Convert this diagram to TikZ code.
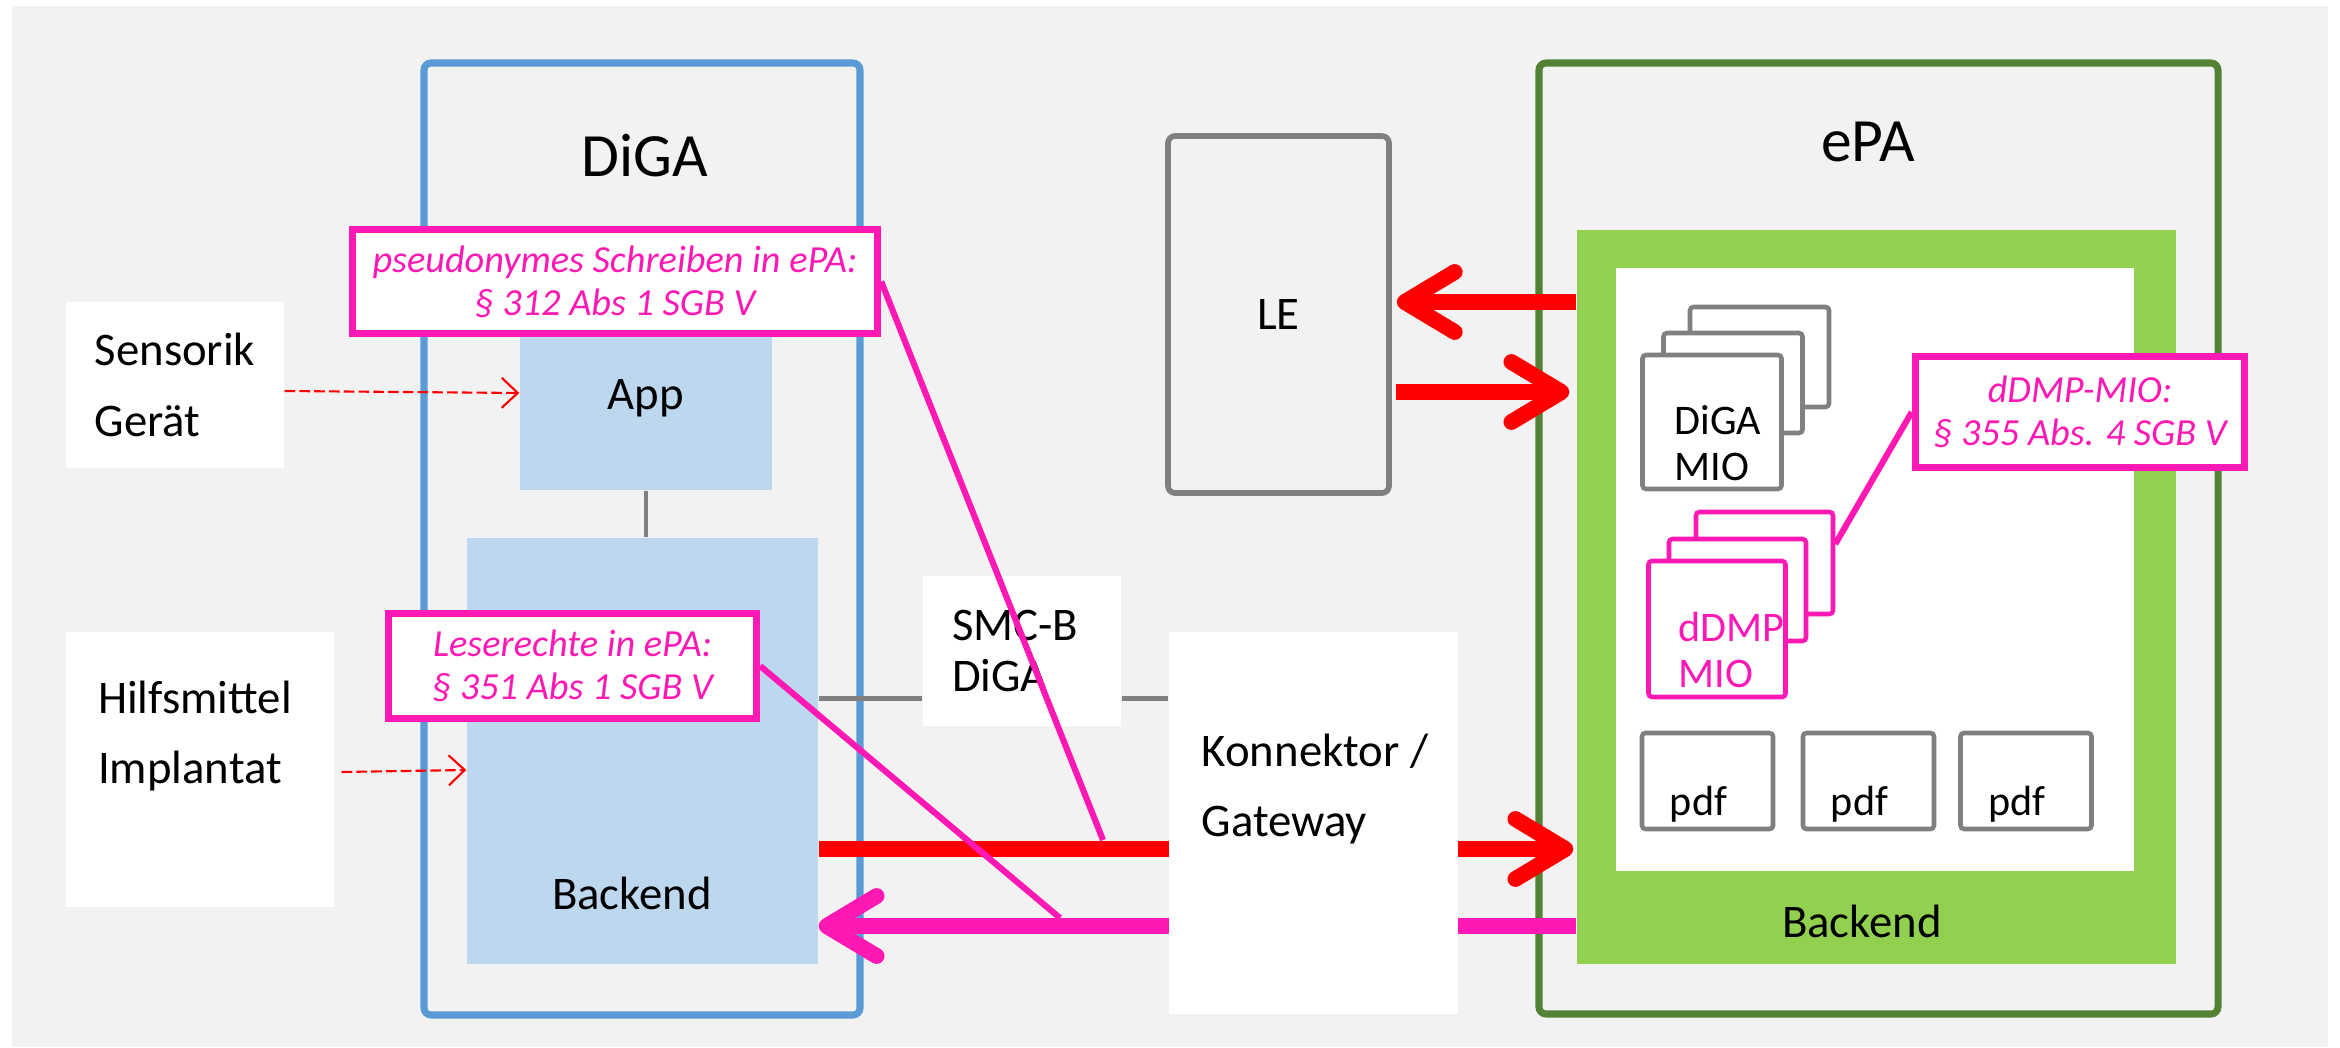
\documentclass[tikz,border=0pt]{standalone}
\usepackage{fontspec}
\setmainfont{Carlito}
\usetikzlibrary{arrows.meta}
\definecolor{bgGray}{HTML}{F2F2F2}
\definecolor{digaBlue}{HTML}{5B9BD5}
\definecolor{lightBlue}{HTML}{BDD7EE}
\definecolor{epaGreen}{HTML}{548235}
\definecolor{limeGreen}{HTML}{92D050}
\definecolor{hotPink}{HTML}{FF19B4}
\definecolor{lineGray}{HTML}{808080}

\begin{document}
\begin{tikzpicture}[
bodyfont/.style={font=\fontsize{13.3}{20}\selectfont},
titlefont/.style={font=\fontsize{17.5}{21}\selectfont},
frame/.style={rectangle, line width=2pt, rounded corners=2pt, fill=bgGray},
part/.style={rectangle, fill=lightBlue, bodyfont},
plain/.style={rectangle, fill=white, align=left, bodyfont},
law/.style={rectangle, draw=hotPink, line width=2.1pt, fill=white, text=hotPink, align=center, font=\fontsize{10.9}{12.3}\selectfont\itshape},
doc/.style={rectangle, draw=lineGray, line width=1.3pt, rounded corners=1pt, fill=white},
doctext/.style={anchor=west, inner sep=0pt, align=left, font=\fontsize{12}{13.2}\selectfont},
link/.style={draw=lineGray, line width=1.4pt},
sensor/.style={red, line width=0.6pt, dash pattern=on 3pt off 1.2pt, -{Straight Barb[length=1.6mm, width=3mm]}},
bigarrow/.style={line width=4.5pt, -{Straight Barb[length=5mm, width=6mm, round]}},
note/.style={hotPink, line width=1.75pt}
]
\useasboundingbox (0,0) rectangle (23.4,10.47);
\fill[bgGray] (0.12,0) rectangle (23.28,10.41);

% DiGA
\node[frame, draw=digaBlue, minimum width=4.36cm, minimum height=9.52cm] (diga) at (6.42,5.08) {};
\node[titlefont] (digatitle) at (6.45,8.91) {DiGA};
\node[part, minimum width=2.52cm, minimum height=1.84cm] (app) at (6.46,6.49) {App};
\node[part, minimum width=3.51cm, minimum height=4.26cm] (dbackend) at (6.425,2.96) {};
\node[bodyfont] (dbackendlabel) at (6.32,1.54) {Backend};
\draw[link] (app.south) -- (app.south |- dbackend.north);

\node[law, minimum width=5.25cm, minimum height=1.04cm] (pseudo) at (6.15,7.655) {pseudonymes Schreiben in ePA:\\§ 312 Abs 1 SGB V};
\node[law, minimum width=3.68cm, minimum height=1.055cm] (lese) at (5.725,3.81) {Leserechte in ePA:\\§ 351 Abs 1 SGB V};

\node[plain, minimum width=2.18cm, minimum height=1.66cm] (sensorik) at (1.75,6.62) {Sensorik\\Gerät};
\node[plain, minimum width=2.68cm, minimum height=2.75cm] (hilfs) at (2.00,2.775) {};
\node[bodyfont, align=left] (hilfstext) at (1.95,3.11) {Hilfsmittel\\Implantat};

\draw[sensor] ([yshift=-0.06cm]sensorik.east) -- ([yshift=0.05cm]app.west);
\draw[sensor] ([xshift=0.07cm, yshift=-0.025cm]hilfs.east) -- ([yshift=-0.19cm]dbackend.west);

% Mitte
\node[plain, text width=1.40cm, minimum width=1.98cm, minimum height=1.5cm, font=\fontsize{13.3}{14.5}\selectfont] (smcb) at (10.22,3.96) {SMC-B\\DiGA};
\draw[link] ([yshift=-0.475cm]smcb.west) -- ([yshift=-0.475cm]smcb.west -| dbackend.east);
\node[rectangle, draw=lineGray, line width=1.6pt, rounded corners=2pt, minimum width=2.21cm, minimum height=3.57cm, bodyfont] (le) at (12.785,7.325) {LE};

% ePA
\node[frame, draw=epaGreen, minimum width=6.79cm, minimum height=9.51cm] (epa) at (18.785,5.085) {};
\node[titlefont] (epatitle) at (18.68,9.05) {ePA};
\node[rectangle, fill=limeGreen, minimum width=5.99cm, minimum height=7.34cm] (epaback) at (18.765,4.50) {};
\node[rectangle, fill=white, minimum width=5.18cm, minimum height=6.03cm] (epastore) at (18.75,4.775) {};
\node[bodyfont] (epabacklabel) at (18.62,1.26) {Backend};

\foreach \n/\x/\y/\h in {3/17.595/6.90/1.00, 2/17.33/6.64/1.00, 1/17.12/6.25/1.34}
  \node[doc, minimum width=1.39cm, minimum height=\h cm] (mio\n) at (\x,\y) {};
\node[doctext] (miotext) at (16.74,6.04) {DiGA\\MIO};

\foreach \n/\x/\y/\h in {3/17.645/4.84/1.02, 2/17.375/4.57/1.02, 1/17.17/4.18/1.36}
  \node[doc, draw=hotPink, minimum width=1.37cm, minimum height=\h cm] (ddmp\n) at (\x,\y) {};
\node[doctext, text=hotPink] (ddmptext) at (16.78,3.97) {dDMP\\MIO};

\foreach \i/\x in {1/17.075, 2/18.685, 3/20.26} {
  \node[doc, minimum width=1.31cm, minimum height=0.96cm] (pdf\i) at (\x,2.66) {};
  \node[doctext] (pdftext\i) at ([xshift=0.295cm, yshift=-0.23cm]pdf\i.west) {pdf};
}

\node[law, minimum width=3.29cm, minimum height=1.11cm] (ddmpmio) at (20.80,6.35) {dDMP-MIO:\\§ 355 Abs. 4 SGB V};

% Pfeile
\draw[bigarrow, red] ([yshift=0.125cm]le.east -| epaback.west) -- ([yshift=0.125cm, xshift=0.05cm]le.east);
\draw[bigarrow, red] ([yshift=-0.775cm, xshift=0.04cm]le.east) -- ([yshift=-0.775cm, xshift=-0.07cm]le.east -| epaback.west);
\draw[bigarrow, red] ([yshift=-0.98cm]dbackend.east) -- ([yshift=-0.98cm, xshift=-0.03cm]dbackend.east -| epaback.west);
\draw[bigarrow, hotPink] ([yshift=-1.75cm]dbackend.east -| epaback.west) -- ([yshift=-1.75cm]dbackend.east);

\node[plain, minimum width=2.89cm, minimum height=3.82cm] (konn) at (13.135,2.24) {};
\node[bodyfont, align=left] (konntext) at (13.15,2.58) {Konnektor /\\Gateway};
\draw[link] ([yshift=-0.475cm]smcb.east) -- ([yshift=-0.475cm]smcb.east -| konn.west);

% Verweise
\coordinate (pseudoend) at (11.03,2.07);
\coordinate (leseend) at (10.60,1.29);
\draw[note] (pseudo.east) -- (pseudoend);
\draw[note] (lese.east) -- (leseend);
\draw[note] (ddmpmio.west) -- ([yshift=0.19cm]ddmp3.east);
\end{tikzpicture}
\end{document}
